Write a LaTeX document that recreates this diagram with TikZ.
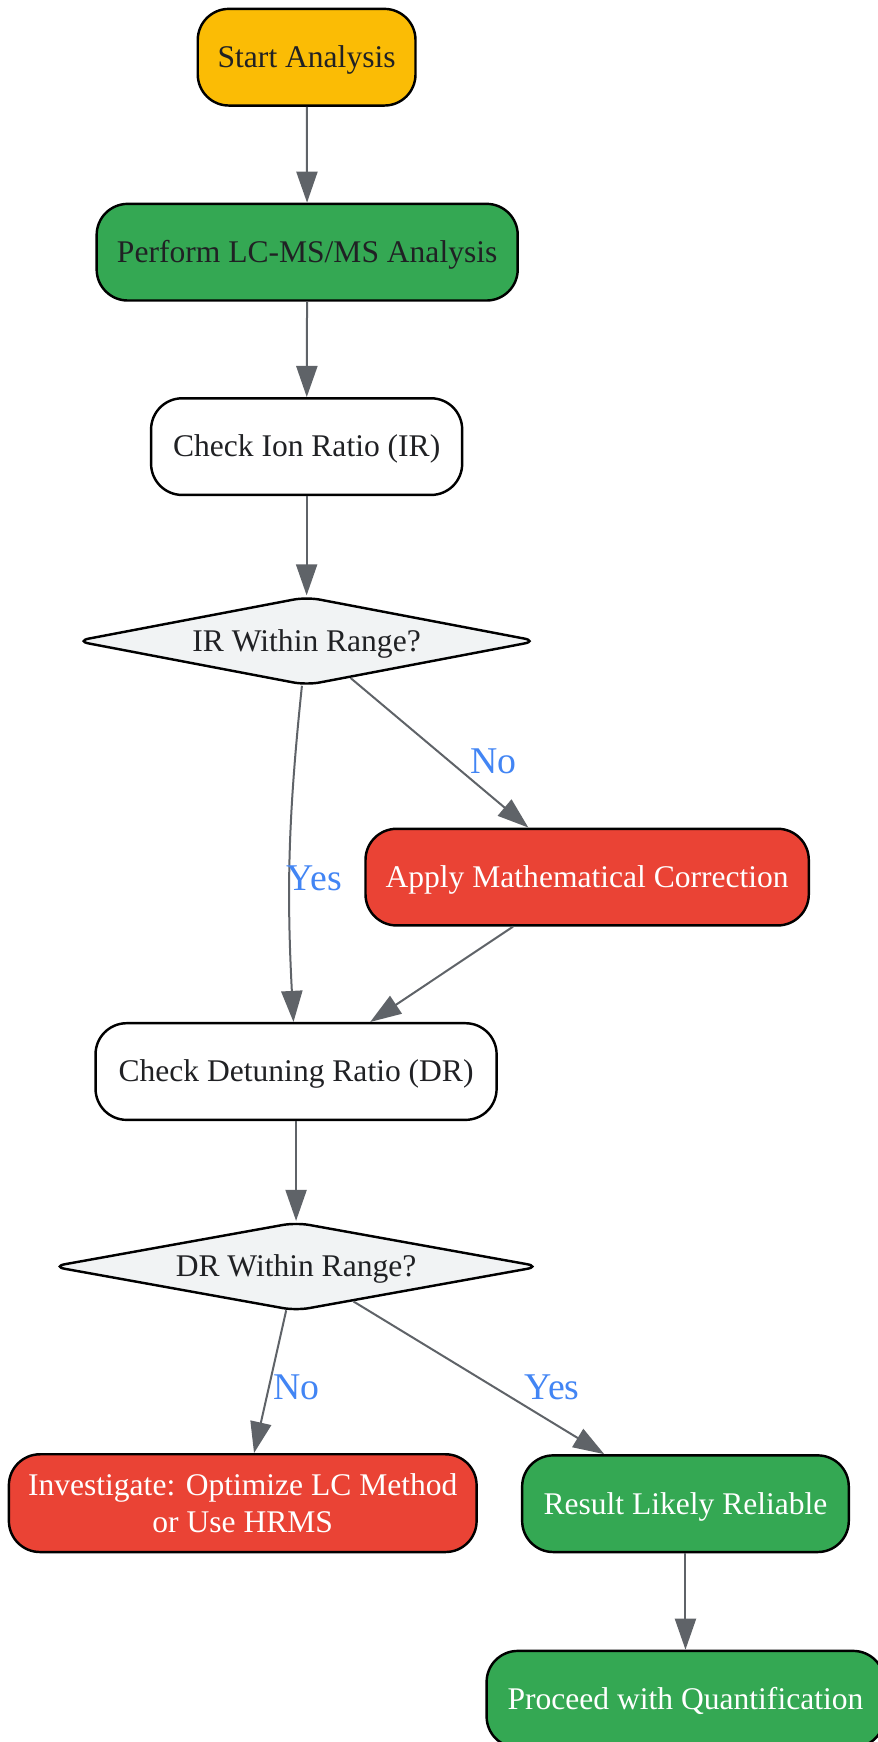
\documentclass[tikz,border=0pt]{standalone}
\usepackage{fontspec}
\setmainfont{Liberation Serif}
\usetikzlibrary{shapes.geometric,arrows.meta}
\definecolor{gyellow}{HTML}{FBBC05}
\definecolor{ggreen}{HTML}{34A853}
\definecolor{gred}{HTML}{EA4335}
\definecolor{glight}{HTML}{F1F3F4}
\definecolor{ggray}{HTML}{5F6368}
\definecolor{gblue}{HTML}{4285F4}
\definecolor{gtext}{HTML}{202124}
\begin{document}
\begin{tikzpicture}[x=0.5pt,y=-0.5pt,
  box/.style={draw=black,line width=1.1pt,rounded corners=14pt,inner sep=0pt,
    minimum height=43.5pt,align=center,text=gtext,
    font=\fontsize{14.2}{16.5}\selectfont},
  onel/.style={text height=0.93em,text depth=0em},
  dia/.style={draw=black,line width=1.1pt,shape=diamond,aspect=5,rounded corners=6pt,
    inner sep=0pt,minimum width=208pt,minimum height=40pt,fill=glight,text=gtext,
    text height=0.93em,text depth=0em,
    font=\fontsize{14.2}{16.5}\selectfont},
  conn/.style={draw=ggray,line width=0.9pt,-{Triangle[length=14pt,width=9.5pt]}},
  lbl/.style={text=gblue,font=\fontsize{17}{19}\selectfont,inner sep=0pt}]
\useasboundingbox (0,0) rectangle (790,1568);
\node[box,onel,fill=gyellow,minimum width=98pt] (start) at (276,51.5) {Start Analysis};
\node[box,onel,fill=ggreen,minimum width=189.5pt] (lcms) at (276.5,227) {Perform LC-MS/MS Analysis};
\node[box,onel,fill=white,minimum width=140pt] (cir) at (276,402) {Check Ion Ratio (IR)};
\node[dia] (ir) at (276,577) {IR Within Range?};
\node[box,onel,fill=gred,text=white,minimum width=199.5pt] (amc) at (528.5,789.5) {Apply Mathematical Correction};
\node[box,onel,fill=white,minimum width=180.5pt] (cdr) at (266.5,964.5) {Check Detuning Ratio (DR)};
\node[dia,minimum width=220pt] (dr) at (266.5,1140) {DR Within Range?};
\node[box,fill=gred,text=white,minimum width=210.5pt,minimum height=44pt] (inv) at (218.5,1353) {Investigate: Optimize LC Method\\or Use HRMS};
\node[box,onel,fill=ggreen,text=white,minimum width=147pt] (rlr) at (617,1353.5) {Result Likely Reliable};
\node[box,onel,fill=ggreen,text=white,minimum width=179pt] (pq) at (617,1529.5) {Proceed with Quantification};

\draw[conn] (start) -- (lcms);
\draw[conn] (lcms) -- (cir);
\draw[conn] (cir) -- (ir);
\draw[conn] (ir) -- (amc);
\draw[conn] (ir) to[out=-96,in=93] (cdr);
\draw[conn] (amc) -- (cdr);
\draw[conn] (cdr) -- (dr);
\draw[conn] (dr) -- (inv);
\draw[conn] (dr) -- (rlr);
\draw[conn] (rlr) -- (pq);

\node[lbl] (lno1) at (444,685) {No};
\node[lbl] (lyes1) at (283,791) {Yes};
\node[lbl] (lno2) at (267,1249) {No};
\node[lbl] (lyes2) at (497,1249) {Yes};
\end{tikzpicture}
\end{document}
